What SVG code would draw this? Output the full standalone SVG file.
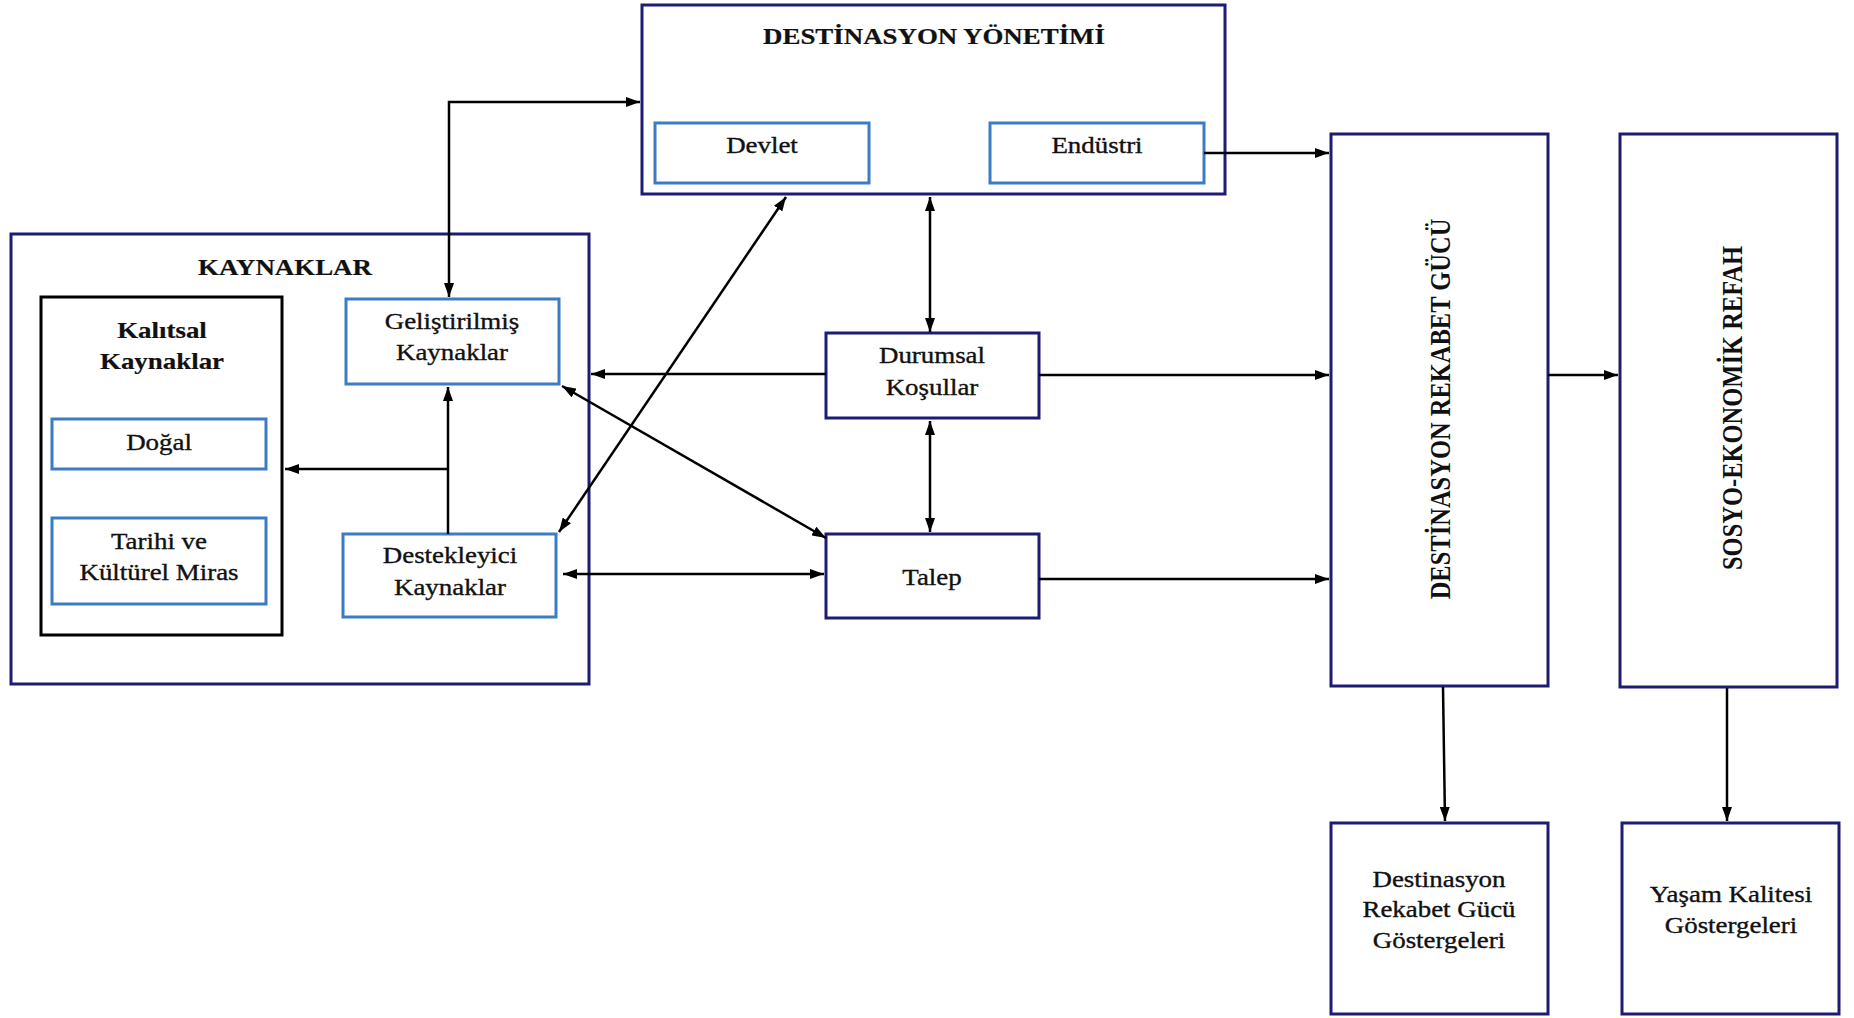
<svg xmlns="http://www.w3.org/2000/svg" width="1854" height="1018" viewBox="0 0 1854 1018">
  <defs>
    <marker id="ah" viewBox="0 0 14 10" refX="14" refY="5" markerWidth="14" markerHeight="10" markerUnits="userSpaceOnUse" orient="auto-start-reverse">
      <path d="M0,0 L14,5 L0,10 Z" fill="#000"/>
    </marker>
    <style>
      .outer { fill: #fff; stroke: #1c1c72; stroke-width: 3; }
      .inner { fill: #fff; stroke: #3b7dc4; stroke-width: 3; }
      .plain { fill: #fff; stroke: #000; stroke-width: 3; }
      text { font-family: "Liberation Serif", "Times New Roman", Times, "DejaVu Serif", serif; }
      .t { font-size: 23px; font-weight: 400; fill: #111; stroke: #111; stroke-width: 0.35; text-anchor: middle; }
      .b { font-weight: 700; stroke-width: 0.2; }
      .vt { font-size: 24.5px; font-weight: 700; fill: #111; text-anchor: middle; }
      .ln { fill: none; stroke: #000; stroke-width: 2.5; }
      .one { marker-end: url(#ah); }
      .two { marker-start: url(#ah); marker-end: url(#ah); }
    </style>
  </defs>
  <rect width="1854" height="1018" fill="#fff"/>

  <!-- Destination management block -->
  <g id="destinasyon-yonetimi">
    <rect class="outer" x="642" y="5" width="583" height="189"/>
    <text class="t b" transform="translate(934,44) scale(1.17,1)">DESTİNASYON YÖNETİMİ</text>
  </g>
  <g id="devlet">
    <rect class="inner" x="655" y="123" width="214" height="60"/>
    <text class="t" transform="translate(762,153) scale(1.17,1)">Devlet</text>
  </g>
  <g id="endustri">
    <rect class="inner" x="990" y="123" width="214" height="60"/>
    <text class="t" transform="translate(1097,153) scale(1.17,1)">Endüstri</text>
  </g>

  <!-- Resources block -->
  <g id="kaynaklar">
    <rect class="outer" x="11" y="234" width="578" height="450"/>
    <text class="t b" transform="translate(285,275) scale(1.17,1)">KAYNAKLAR</text>
  </g>
  <g id="kalitsal-kaynaklar">
    <rect class="plain" x="41" y="297" width="241" height="338"/>
    <text class="t b" transform="translate(162,338) scale(1.17,1)"><tspan x="0" dy="0">Kalıtsal</tspan><tspan x="0" dy="31">Kaynaklar</tspan></text>
  </g>
  <g id="dogal">
    <rect class="inner" x="52" y="419" width="214" height="50"/>
    <text class="t" transform="translate(159,450) scale(1.17,1)">Doğal</text>
  </g>
  <g id="tarihi-kulturel-miras">
    <rect class="inner" x="52" y="518" width="214" height="86"/>
    <text class="t" transform="translate(159,549) scale(1.17,1)"><tspan x="0" dy="0">Tarihi ve</tspan><tspan x="0" dy="31">Kültürel Miras</tspan></text>
  </g>
  <g id="gelistirilmis-kaynaklar">
    <rect class="inner" x="346" y="299" width="213" height="85"/>
    <text class="t" transform="translate(452,329) scale(1.17,1)"><tspan x="0" dy="0">Geliştirilmiş</tspan><tspan x="0" dy="31">Kaynaklar</tspan></text>
  </g>
  <g id="destekleyici-kaynaklar">
    <rect class="inner" x="343" y="534" width="213" height="83"/>
    <text class="t" transform="translate(450,563) scale(1.17,1)"><tspan x="0" dy="0">Destekleyici</tspan><tspan x="0" dy="32">Kaynaklar</tspan></text>
  </g>

  <!-- Middle column -->
  <g id="durumsal-kosullar">
    <rect class="outer" x="826" y="333" width="213" height="85"/>
    <text class="t" transform="translate(932,363) scale(1.17,1)"><tspan x="0" dy="0">Durumsal</tspan><tspan x="0" dy="32">Koşullar</tspan></text>
  </g>
  <g id="talep">
    <rect class="outer" x="826" y="534" width="213" height="84"/>
    <text class="t" transform="translate(932,585) scale(1.17,1)">Talep</text>
  </g>

  <!-- Outcome columns -->
  <g id="destinasyon-rekabet-gucu">
    <rect class="outer" x="1331" y="134" width="217" height="552"/>
    <text class="vt" transform="translate(1450,409) rotate(-90) scale(1,1.17)">DESTİNASYON REKABET GÜCÜ</text>
  </g>
  <g id="sosyo-ekonomik-refah">
    <rect class="outer" x="1620" y="134" width="217" height="553"/>
    <text class="vt" transform="translate(1742,408) rotate(-90) scale(1,1.17)">SOSYO-EKONOMİK REFAH</text>
  </g>
  <g id="rekabet-gucu-gostergeleri">
    <rect class="outer" x="1331" y="823" width="217" height="191"/>
    <text class="t" transform="translate(1439,887) scale(1.17,1)"><tspan x="0" dy="0">Destinasyon</tspan><tspan x="0" dy="30.5">Rekabet Gücü</tspan><tspan x="0" dy="30.5">Göstergeleri</tspan></text>
  </g>
  <g id="yasam-kalitesi-gostergeleri">
    <rect class="outer" x="1622" y="823" width="217" height="191"/>
    <text class="t" transform="translate(1731,902) scale(1.17,1)"><tspan x="0" dy="0">Yaşam Kalitesi</tspan><tspan x="0" dy="31">Göstergeleri</tspan></text>
  </g>

  <!-- Connectors -->
  <g id="connectors">
    <path class="ln two" d="M449,297 V102 H640"/>
    <path class="ln one" d="M448,534 V387"/>
    <path class="ln one" d="M448,469 H285"/>
    <path class="ln two" d="M786,197 L559,532"/>
    <path class="ln two" d="M930,197 V332"/>
    <path class="ln one" d="M826,374 H591"/>
    <path class="ln one" d="M1039,375 H1329"/>
    <path class="ln two" d="M930,421 V532"/>
    <path class="ln two" d="M562,386 L826,538"/>
    <path class="ln two" d="M563,574 H824"/>
    <path class="ln one" d="M1039,579 H1329"/>
    <path class="ln one" d="M1204,153 H1329"/>
    <path class="ln one" d="M1548,375 H1618"/>
    <path class="ln one" d="M1443,687 L1445,821"/>
    <path class="ln one" d="M1727,688 V821"/>
  </g>
</svg>
